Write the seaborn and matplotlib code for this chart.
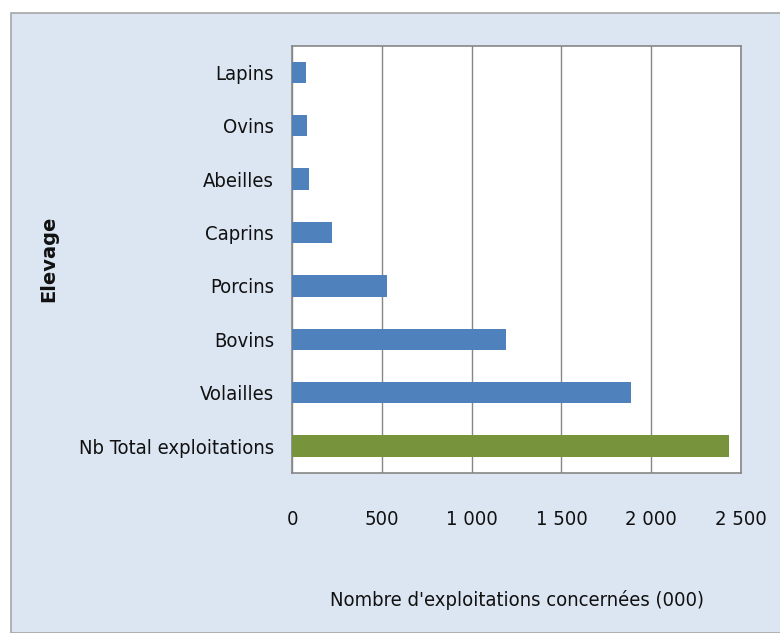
import matplotlib
matplotlib.use("Agg")
import matplotlib.pyplot as plt
import seaborn as sns
from matplotlib.patches import Rectangle
from matplotlib.ticker import FuncFormatter

# Data (thousands of farms)
categories = ["Lapins", "Ovins", "Abeilles", "Caprins", "Porcins", "Bovins",
              "Volailles", "Nb Total exploitations"]
values = [78, 86, 93, 223, 528, 1193, 1888, 2432]
bar_colors = ["#4F81BD"] * 7 + ["#77933C"]
x_ticks = [0, 500, 1000, 1500, 2000, 2500]

sns.set_theme(style="white")
plt.rcParams["font.family"] = ["DejaVu Sans"]
plt.rcParams["font.stretch"] = "condensed"

fig = plt.figure(figsize=(7.8, 6.33), dpi=100)
fig.patch.set_facecolor("white")
bg = Rectangle((11 / 780, 0), 1, 1 - 13 / 633, transform=fig.transFigure,
               facecolor="#DCE6F2", edgecolor="#A6A6A6", linewidth=1.2, zorder=-10)
fig.patches.append(bg)

ax = fig.add_axes([292 / 780, 1 - 472.7 / 633, (741 - 292) / 780, (472.7 - 45.7) / 633])
ax.set_zorder(1)
ax.set_facecolor("white")

sns.barplot(x=values, y=categories, hue=categories, palette=bar_colors,
            legend=False, orient="h", width=0.4, saturation=1, linewidth=0,
            ax=ax, zorder=3)

ax.set_xlim(0, 2500)
ax.set_xticks(x_ticks)
ax.xaxis.set_major_formatter(FuncFormatter(lambda v, p: f"{int(v):,}".replace(",", " ")))
ax.grid(axis="x", color="#868686", linewidth=1, zorder=0)
ax.set_axisbelow(True)

for s in ax.spines.values():
    s.set_color("#868686")
    s.set_linewidth(1.2)

ax.tick_params(axis="x", length=0, pad=27, labelsize=14.5, colors="#111111")
ax.tick_params(axis="y", length=0, pad=13, labelsize=14.5, colors="#111111")

ax.set_xlabel("Nombre d'exploitations concernées (000)", fontsize=14.5,
              labelpad=44, color="#111111")
ax.set_ylabel("Elevage", fontsize=14, fontweight="bold", fontstretch="normal",
              color="#111111")
ax.yaxis.set_label_coords(-0.521, 0.5)

fig.savefig("out.png", dpi=100, facecolor=fig.get_facecolor())
